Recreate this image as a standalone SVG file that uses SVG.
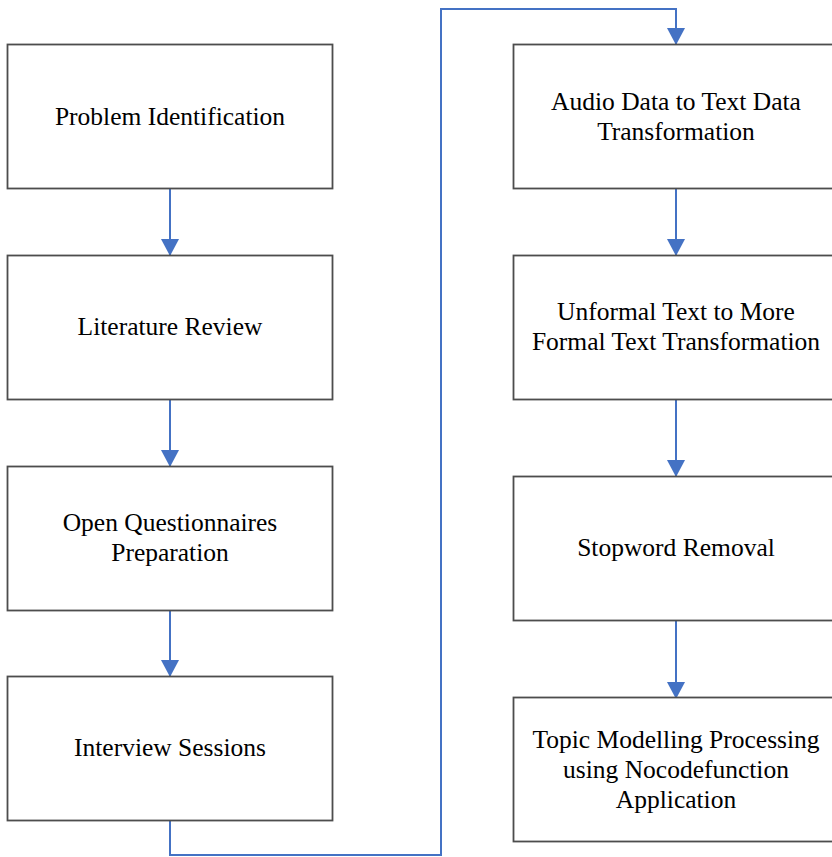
<svg xmlns="http://www.w3.org/2000/svg" width="832" height="857" viewBox="0 0 832 857">
<defs>
<style>
.box{fill:#fff;stroke:#4d4d4d;stroke-width:1.8}
.lbl{font-family:"Liberation Serif","Times New Roman",serif;font-size:25.5px;fill:#000;text-anchor:middle}
.con{fill:none;stroke:#4472C4;stroke-width:2}
</style>
<marker id="ah" markerWidth="18" markerHeight="18" refX="16" refY="9" orient="auto" markerUnits="userSpaceOnUse">
<path d="M0,0 L17,9 L0,18 Z" fill="#4472C4"/>
</marker>
</defs>
<rect width="832" height="857" fill="#fff"/>
<g id="connectors">
<path class="con" d="M170,189 V255" marker-end="url(#ah)"/>
<path class="con" d="M170,400 V466" marker-end="url(#ah)"/>
<path class="con" d="M170,610 V676" marker-end="url(#ah)"/>
<path class="con" d="M170,820 V855 H441 V9 H676 V44" marker-end="url(#ah)"/>
<path class="con" d="M676,189 V255" marker-end="url(#ah)"/>
<path class="con" d="M676,400 V476" marker-end="url(#ah)"/>
<path class="con" d="M676,621 V698" marker-end="url(#ah)"/>
</g>
<g id="n1"><rect class="box" x="7.5" y="44.5" width="325" height="144"/><text class="lbl" x="170" y="125">Problem Identification</text></g>
<g id="n2"><rect class="box" x="7.5" y="255.5" width="325" height="144"/><text class="lbl" x="170" y="335">Literature Review</text></g>
<g id="n3"><rect class="box" x="7.5" y="466.5" width="325" height="144"/><text class="lbl" x="170" y="531">Open Questionnaires</text><text class="lbl" x="170" y="561">Preparation</text></g>
<g id="n4"><rect class="box" x="7.5" y="676.5" width="325" height="144"/><text class="lbl" x="170" y="756">Interview Sessions</text></g>
<g id="n5"><rect class="box" x="513.5" y="44.5" width="325" height="144"/><text class="lbl" x="676" y="110">Audio Data to Text Data</text><text class="lbl" x="676" y="140">Transformation</text></g>
<g id="n6"><rect class="box" x="513.5" y="255.5" width="325" height="144"/><text class="lbl" x="676" y="320">Unformal Text to More</text><text class="lbl" x="676" y="350">Formal Text Transformation</text></g>
<g id="n7"><rect class="box" x="513.5" y="476.5" width="325" height="144"/><text class="lbl" x="676" y="556">Stopword Removal</text></g>
<g id="n8"><rect class="box" x="513.5" y="697.5" width="325" height="144"/><text class="lbl" x="676" y="748">Topic Modelling Processing</text><text class="lbl" x="676" y="778">using Nocodefunction</text><text class="lbl" x="676" y="808">Application</text></g>
</svg>
